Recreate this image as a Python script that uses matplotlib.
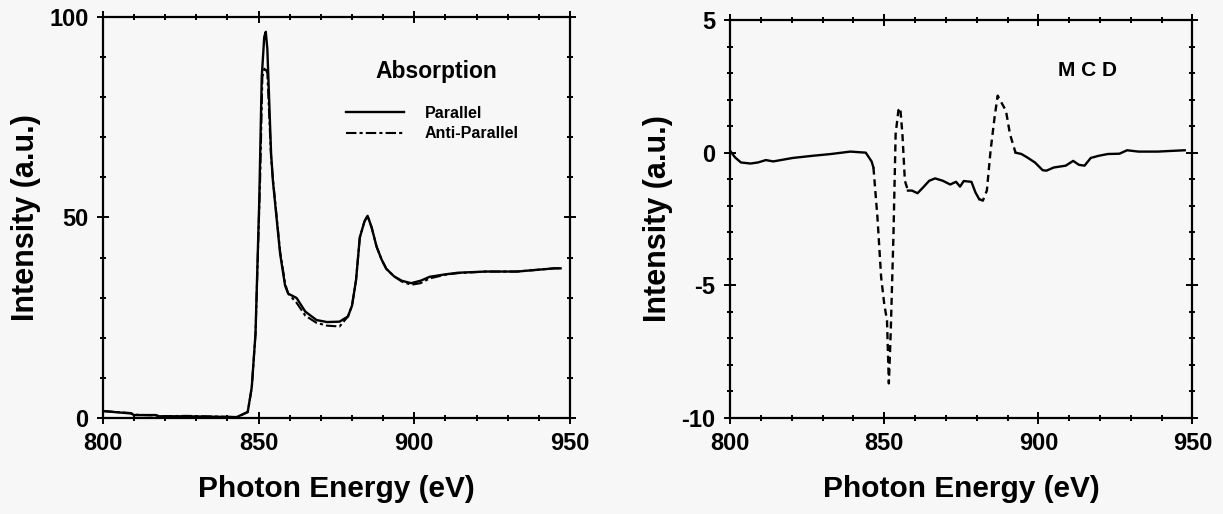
import numpy as np
import matplotlib
matplotlib.use("Agg")
import matplotlib.pyplot as plt
from matplotlib.ticker import MultipleLocator

plt.rcParams['font.family'] = ['Liberation Sans', 'DejaVu Sans']
plt.rcParams['font.weight'] = 'bold'

# ---- absorption spectra (left panel) ----
par_x = [800, 809, 810, 817, 818, 827, 843, 846.5, 847.8, 849, 850.2, 851, 851.8, 852.3, 852.8,
         854, 854.6, 856.9, 858.5, 859.5, 862.2, 865, 868.6, 872, 876, 878.7, 880, 881.3,
         882.5, 884, 885, 886.3, 887.9, 889.5, 891, 893.5, 896, 899, 902, 905, 910, 914,
         923, 933, 945, 947]
par_y = [1.7, 1.1, 0.7, 0.7, 0.4, 0.4, 0.2, 1.5, 7.7, 21, 54, 85, 95, 96.3, 92,
         66, 59, 41, 33, 31, 29.9, 26.5, 24.4, 23.9, 24.0, 25.3, 28, 34.4,
         45, 49, 50.4, 47.5, 42.7, 39.5, 37.2, 35.3, 34.2, 33.6, 34.2, 35.2, 35.8, 36.2,
         36.5, 36.5, 37.3, 37.3]

anti_x = [800, 809, 810, 817, 818, 827, 843, 846.5, 847.8, 849, 850.5, 851.2, 852, 852.8,
          854, 854.6, 856.9, 858.5, 859.5, 862.2, 865, 868.6, 872, 876, 878.7, 880, 881.3,
          882.5, 884, 885, 886.3, 887.9, 889.5, 891, 893.5, 896, 899, 902, 905, 910, 914,
          923, 933, 945, 947]
anti_y = [1.7, 1.2, 0.8, 0.6, 0.4, 0.5, 0.2, 1.4, 7.5, 21, 60, 85, 87.5, 86,
          65, 59.5, 41.5, 33.5, 31, 28.7, 25.5, 23.7, 23.0, 22.8, 25.3, 28, 34.4,
          45, 49, 50.4, 47.5, 42.7, 39.5, 37.2, 35.3, 34.0, 33.2, 33.6, 34.8, 35.7, 36.1,
          36.5, 36.5, 37.3, 37.3]

# ---- MCD difference (right panel) ----
mcd_x = [800, 801.6, 803.5, 806.6, 809, 811.6, 814, 820.3, 826.6, 832.8, 839, 844, 845.9, 846.5,
         847.8, 849, 850, 850.9, 851.5, 852.1, 853, 853.7, 854.6, 855.2, 855.9, 856.7, 857.7,
         859, 860.8, 862.7, 864.6, 866.5, 869, 871.4, 873.3, 874.6, 875.8, 878.3, 879.6, 880.8,
         882, 883.3, 884.5, 885.8, 886.8, 888.3, 889.5, 890.8, 892.6,
         894.5, 896.4, 898.9, 901.4, 902.6, 905, 908.9, 911.3, 913.2, 915, 917, 919.5, 922.6,
         926.3, 928.8, 932.5, 938.8, 943.8, 947.5]
mcd_y = [0.07, -0.18, -0.37, -0.41, -0.37, -0.28, -0.33, -0.2, -0.12, -0.05, 0.04, 0.0, -0.33, -0.56,
         -2.44, -4.7, -5.7, -6.33, -8.7, -6.8, -3.07, 0.7, 1.6, 1.69, 0.7, -1.06, -1.43,
         -1.43, -1.53, -1.3, -1.06, -0.97, -1.06, -1.2, -1.1, -1.28, -1.07, -1.1, -1.5, -1.75,
         -1.81, -1.43, 0.07, 1.33, 2.15, 1.83, 1.58, 0.7, 0.0,
         -0.05, -0.18, -0.37, -0.66, -0.68, -0.56, -0.49, -0.31, -0.46, -0.49, -0.2, -0.12, -0.05,
         -0.04, 0.09, 0.04, 0.04, 0.07, 0.09]
dashed_ranges = [(846.5, 857.7), (880.8, 892.6)]

x_ticks = [800, 850, 900, 950]
abs_ticks = [0, 50, 100]
mcd_ticks = [-10, -5, 0, 5]

bg = '#f7f7f7'
fig = plt.figure(figsize=(12.23, 5.14), dpi=100, facecolor=bg)
ax1 = fig.add_axes([0.0842, 0.187, 0.3818, 0.780])
ax2 = fig.add_axes([0.597, 0.187, 0.378, 0.774])


def style_axes(ax, yticks, yminor):
    ax.set_facecolor(bg)
    for s in ax.spines.values():
        s.set_linewidth(1.6)
    ax.set_xlim(800, 950)
    ax.set_ylim(yticks[0], yticks[-1])
    ax.set_xticks(x_ticks)
    ax.set_xticklabels([str(t) for t in x_ticks], fontweight='bold')
    ax.set_yticks(yticks)
    ax.set_yticklabels([str(t) for t in yticks], fontweight='bold')
    ax.xaxis.set_minor_locator(MultipleLocator(10))
    ax.yaxis.set_minor_locator(MultipleLocator(yminor))
    ax.tick_params(which='both', direction='inout', top=True, right=True, width=1.4)
    ax.tick_params(which='major', length=9, labelsize=17, pad=6)
    ax.tick_params(which='minor', length=5)
    ax.set_xlabel('Photon Energy (eV)', fontsize=21.5, fontweight='bold', labelpad=14)
    ax.set_ylabel('Intensity (a.u.)', fontsize=22, fontweight='bold', labelpad=6)


ax1.plot(par_x, par_y, color='black', lw=1.7, label='Parallel')
ax1.plot(anti_x, anti_y, color='black', lw=1.5, ls=(0, (5, 1.5, 1.5, 1.5)), label='Anti-Parallel')
style_axes(ax1, abs_ticks, 10)
ax1.text(907, 86.3, 'Absorption', fontsize=16.5, fontweight='bold', ha='center', va='center')
leg = ax1.legend(loc='upper left', bbox_to_anchor=(0.49, 0.815), frameon=False,
                 prop={'size': 11.5, 'weight': 'bold'}, handlelength=3.6, handletextpad=1.3,
                 labelspacing=0.35)

mx = np.array(mcd_x)
my = np.array(mcd_y)
dash_mask = np.zeros(len(mx), dtype=bool)
for lo, hi in dashed_ranges:
    dash_mask |= (mx >= lo) & (mx <= hi)
edges = [r for pair in dashed_ranges for r in pair]
solid_y = np.where(~dash_mask | np.isin(mx, edges), my, np.nan)
dash_y = np.where(dash_mask, my, np.nan)
ax2.plot(mx, solid_y, color='black', lw=1.7)
ax2.plot(mx, dash_y, color='black', lw=1.7, ls=(0, (3, 2)))
style_axes(ax2, mcd_ticks, 1)
ax2.text(916, 3.08, 'M C D', fontsize=15, fontweight='bold', ha='center', va='center')

fig.savefig('out.png', dpi=100, facecolor=bg)
